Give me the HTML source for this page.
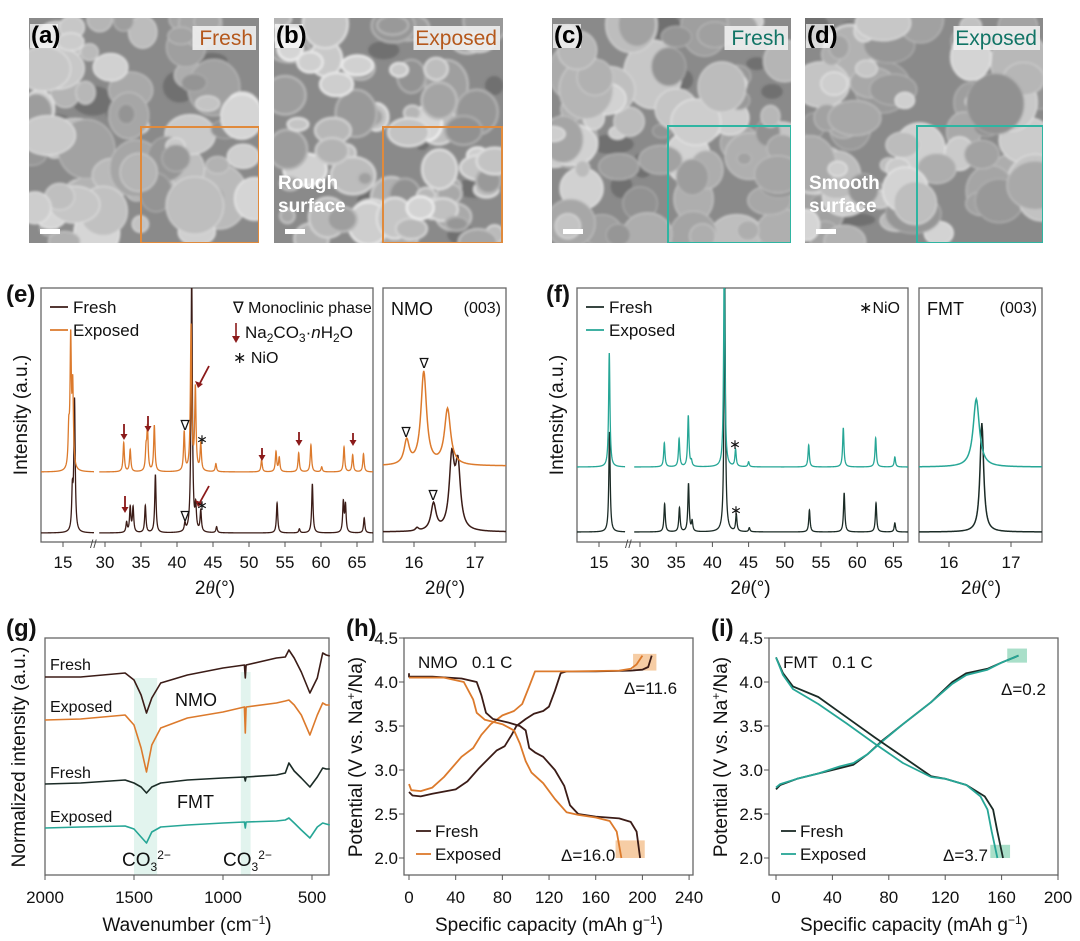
<!DOCTYPE html>
<html><head><meta charset="utf-8">
<style>
html,body{margin:0;padding:0;background:#fff;}
svg{display:block;font-family:"Liberation Sans",sans-serif;}
</style></head>
<body>
<svg id="fig" width="1080" height="941" viewBox="0 0 1080 941" xmlns="http://www.w3.org/2000/svg">
<defs>
<clipPath id="clipE"><rect x="41" y="288" width="332" height="254"/></clipPath>
<clipPath id="clipES"><rect x="383" y="288" width="123" height="254"/></clipPath>
<clipPath id="clipF"><rect x="577" y="288" width="331" height="254"/></clipPath>
<clipPath id="clipFS"><rect x="919" y="288" width="123" height="254"/></clipPath>
<clipPath id="cA"><rect x="29" y="18" width="230" height="225"/></clipPath>
<clipPath id="cB"><rect x="274" y="18" width="229" height="225"/></clipPath>
<clipPath id="cC"><rect x="552" y="18" width="239" height="225"/></clipPath>
<clipPath id="cD"><rect x="805" y="18" width="238" height="225"/></clipPath>
<filter id="soft"><feGaussianBlur stdDeviation="1.2"/></filter>
</defs>
<g id="root"></g>
</svg>
<script>
// ===== XRD data (peak positions in 2θ deg, heights in a.u., half-widths in deg) =====
const eExpPos=[15.8,16.07,16.35,32.6,33.5,35.7,35.9,36.85,41.0,41.95,42.55,43.3,45.4,51.75,53.75,54.2,56.9,58.6,60.1,63.2,64.4,65.9];
const eExpH=[35,127,79,29,22,20,42,46,39,145,82,27,8,12,20,14,19,27,5,25,17,18];
const eFrePos=[16.3,16.6,33.0,33.5,33.9,35.6,37.0,41.1,42.04,42.6,43.3,45.5,53.9,57.0,58.8,63.1,63.4,66.0];
const eFreH=[38,131,10,25,25,27,58,8,260,23,21,6,30,4,49,30,27,15];
const eSubExpPos=[15.88,16.16,16.55];
const eSubExpH=[24,93,56];
const eSubExpW=[0.05,0.055,0.06];
const eSubFrePos=[16.05,16.32,16.62,16.72];
const eSubFreH=[3,27,70,62];
const eSubFreW=[0.03,0.05,0.05,0.05];
const fExpPos=[16.42,33.36,35.4,36.67,37.1,41.64,43.2,45.0,53.3,58.08,62.55,65.2];
const fExpH=[114,24,28,51,5,210,17,5,22,39,29,10];
const fFrePos=[16.45,33.4,35.45,36.7,37.2,41.7,43.3,45.1,53.4,58.2,62.6,65.2];
const fFreH=[100,28,24,48,10,260,17,4,22,39,29,9];
const fSubExpPos=[16.44];
const fSubExpH=[68];
const fSubExpW=[0.06];
const fSubFrePos=[16.53];
const fSubFreH=[109];
const fSubFreW=[0.035];
const xrdTicksMain=[30,35,40,45,50,55,60,65];
const xrdTicksSub=[16,17];
// ===== FTIR data (wavenumber cm-1, intensity a.u.) =====
const irWave=[2000,1800,1550,1500,1460,1430,1400,1350,1200,1000,880,875,870,700,650,630,600,560,512,470,440,420,400];
const irNmoFresh=[198,198,202,195,180,162,177,192,200,207,210,197,210,217,218,225,217,203,182,197,222,220,219];
const irNmoExp=[155,156,160,150,127,103,130,147,157,163,168,142,168,172,174,175,170,160,140,160,172,170,170];
const irFmtFresh=[91,92,95,92,88,82,88,92,95,97,98,94,98,100,102,112,104,97,88,98,107,106,106];
const irFmtExp=[47,48,49,46,38,32,43,48,50,52,53,47,53,54,55,57,52,45,37,48,52,51,50];
const irTicks=[2000,1500,1000,500];
// ===== Charge/discharge data (capacity mAh/g, potential V) =====
const hFreChgC=[0,3,10,20,40,50,60,75,82,88,92,100,107,115,120,125,130,135,160,190,200,205,208];
const hFreChgV=[2.75,2.71,2.70,2.73,2.78,2.87,3.02,3.22,3.27,3.40,3.50,3.58,3.64,3.67,3.72,3.90,4.10,4.12,4.12,4.13,4.14,4.17,4.30];
const hExpChgC=[0,2,10,20,30,45,55,62,70,80,90,97,103,108,140,180,190,195,200];
const hExpChgV=[2.84,2.77,2.76,2.80,2.92,3.15,3.25,3.40,3.52,3.62,3.67,3.75,3.95,4.12,4.12,4.13,4.15,4.20,4.30];
const hFreDisC=[0,0,20,45,58,62,66,72,85,95,100,103,108,115,125,133,138,145,160,180,190,195,198];
const hFreDisV=[4.10,4.06,4.06,4.04,4.00,3.85,3.65,3.58,3.54,3.50,3.45,3.25,3.20,3.15,3.00,2.82,2.60,2.50,2.47,2.45,2.41,2.30,2.00];
const hExpDisC=[0,30,47,55,58,65,80,90,95,100,105,115,125,135,145,160,172,178,182];
const hExpDisV=[4.05,4.05,4.00,3.80,3.65,3.57,3.52,3.45,3.30,3.10,2.97,2.85,2.67,2.52,2.49,2.46,2.42,2.30,2.00];
const iFreChgC=[0,3,15,30,45,55,65,75,90,110,125,135,150,160,172];
const iFreChgV=[2.78,2.83,2.90,2.96,3.02,3.06,3.18,3.33,3.52,3.77,4.00,4.10,4.15,4.22,4.30];
const iExpChgC=[0,3,15,30,45,55,65,75,90,110,125,135,150,160,172];
const iExpChgV=[2.80,2.84,2.90,2.96,3.04,3.08,3.18,3.32,3.52,3.77,3.98,4.08,4.14,4.22,4.30];
const iFreDisC=[0,5,12,30,50,70,90,110,120,135,148,154,157,161];
const iFreDisV=[4.28,4.10,3.95,3.83,3.60,3.37,3.15,2.93,2.90,2.83,2.70,2.55,2.30,2.00];
const iExpDisC=[0,5,12,30,50,70,90,110,120,135,145,150,153,157];
const iExpDisV=[4.28,4.08,3.92,3.75,3.53,3.30,3.08,2.92,2.90,2.83,2.70,2.55,2.30,2.00];
const cdTicksY=[2.0,2.5,3.0,3.5,4.0,4.5];
const hTicksX=[0,40,80,120,160,200,240];
const iTicksX=[0,40,80,120,160,200];

const NS="http://www.w3.org/2000/svg";
const root=document.getElementById('root');
function el(tag,attrs,parent){const e=document.createElementNS(NS,tag);for(const k in attrs)e.setAttribute(k,attrs[k]);(parent||root).appendChild(e);return e;}
function txt(x,y,s,size,anchor,parent,extra){const t=el('text',Object.assign({x:x,y:y,'font-size':size,'text-anchor':anchor||'start','fill':'#111'},extra||{}),parent);t.innerHTML=s;return t;}

// ===== SEM images (decorative texture) =====
let seed=12345;function rnd(){seed=(seed*1103515245+12345)%2147483648;return seed/2147483648;}
function sem(x,y,w,h,clip,name,rough,inset,col,label,lab,caption){
  const g=el('g',{'clip-path':'url(#'+clip+')'});
  
  
  el('rect',{x:x,y:y,width:w,height:h,fill:'#8a8a8a'},g);
  const tex=el('g',{filter:'url(#soft)'},g);
  for(let i=0;i<8;i++){el('ellipse',{cx:x+rnd()*w,cy:y+rnd()*h,rx:8+rnd()*14,ry:6+rnd()*10,fill:'#555',opacity:0.5},tex);}
  for(let i=0;i<75;i++){const cx=x+rnd()*w,cy=y+rnd()*h,r=7+rnd()*(rough?16:22);const v=Math.floor(145+rnd()*70);const s=Math.min(245,v+25);
    el('ellipse',{cx:cx,cy:cy,rx:r,ry:r*(0.6+rnd()*0.6),fill:'rgb('+v+','+v+','+v+')',stroke:'rgb('+s+','+s+','+s+')','stroke-width':rough?2.5:1.2},tex);}
  el('rect',{x:inset[0],y:inset[1],width:inset[2],height:inset[3],fill:'none',stroke:col,'stroke-width':2},g);
  el('rect',{x:x+1,y:y+6,width:28,height:24,fill:'#fff',opacity:0.7},g);
  txt(x+2,y+25,lab,24,'start',g,{'font-weight':'bold','fill':'#000'});
  const lw=label.length*11.5+6;
  el('rect',{x:x+w-lw-3,y:y+8,width:lw,height:24,fill:'#f0f0f0',opacity:0.9},g);
  txt(x+w-6,y+27,label,21,'end',g,{'fill':col==='#e08a3c'?'#b5581c':'#127566'});
  el('rect',{x:x+11,y:y+h-14,width:20,height:5,fill:'#fff'},g);
  if(caption){txt(x+4,y+h-54,caption[0],19,'start',g,{'fill':'#fff','font-weight':'bold'});txt(x+4,y+h-31,caption[1],19,'start',g,{'fill':'#fff','font-weight':'bold'});}
}
sem(29,18,230,225,'cA','sem-image-a',false,[141,127,118,116],'#e08a3c','Fresh','(a)',null);
sem(274,18,229,225,'cB','sem-image-b',true,[383,127,119,116],'#e08a3c','Exposed','(b)',['Rough','surface']);
sem(552,18,239,225,'cC','sem-image-c',false,[668,126,123,117],'#2fb5a2','Fresh','(c)',null);
sem(805,18,238,225,'cD','sem-image-d',false,[917,126,126,117],'#2fb5a2','Exposed','(d)',['Smooth','surface']);

// ===== XRD helpers =====
function lor(t,pos,hs,ws,wdef){let s=0;for(let i=0;i<pos.length;i++){const w=ws?ws[i]:wdef;const d=(t-pos[i])/w;s+=hs[i]/(1+d*d);}return s;}
function xrdPath(x0,t0,sc,tA,tB,base,pos,hs,ws,wdef){let d='';for(let t=tA;t<=tB+1e-9;t+=0.01){const X=x0+(t-t0)*sc,Y=base-lor(t,pos,hs,ws,wdef);d+=(d?'L':'M')+X.toFixed(2)+','+Y.toFixed(2);}return d;}
function axisBox(x,y,w,h,name){const r=el('rect',{x:x,y:y,width:w,height:h,fill:'none',stroke:'#666','stroke-width':1.3});}

function xrdPanel(o){
  axisBox(o.bx,288,o.bw,254,o.name+'-axes');
  const g=el('g',{'clip-path':'url(#'+o.clip+')'});
  
  
  const segs=[[o.lx0,15,o.tL0,o.tL1],[o.rx0,30,29.2,67.5]];
  for(const s of segs){
    const p1=el('path',{d:xrdPath(s[0],s[1],o.sc,s[2],s[3],o.fb,o.fPos,o.fH,null,0.11),fill:'none',stroke:o.fc,'stroke-width':1.3},g);
    
    
    const p2=el('path',{d:xrdPath(s[0],s[1],o.sc,s[2],s[3],o.eb,o.ePos,o.eH,null,0.11),fill:'none',stroke:o.ec,'stroke-width':1.3},g);
    
    
  }
  txt(o.lx0,568,'15',17,'middle');el('line',{x1:o.lx0,y1:542,x2:o.lx0,y2:547,stroke:'#555'});
  for(const t of xrdTicksMain){const X=o.rx0+(t-30)*o.sc;el('line',{x1:X,y1:542,x2:X,y2:547,stroke:'#555'});const tl=txt(X,568,String(t),17,'middle');}
  txt(o.brk-3,548,'//',12,'start',null,{'fill':'#444'});
  const at=txt(o.bx+o.bw/2+8,594,'2<tspan font-style="italic" font-family="Liberation Serif">θ</tspan>(°)',19,'middle');
  const yt=txt(0,0,'Intensity (a.u.)',19,'middle',null,{transform:'translate('+(o.bx-14)+',415) rotate(-90)'});
  axisBox(o.sx,288,123,254,o.name+'-sub-axes');
  const g2=el('g',{'clip-path':'url(#'+o.sclip+')'});
  
  
  el('path',{d:xrdPath(o.s16,16,o.ssc,15.45,17.55,o.sfb,o.sfPos,o.sfH,o.sfW),fill:'none',stroke:o.fc,'stroke-width':1.5},g2);
  el('path',{d:xrdPath(o.s16,16,o.ssc,15.45,17.55,o.seb,o.sePos,o.seH,o.seW),fill:'none',stroke:o.ec,'stroke-width':1.5},g2);
  for(const t of xrdTicksSub){const X=o.s16+(t-16)*o.ssc;el('line',{x1:X,y1:542,x2:X,y2:547,stroke:'#555'});txt(X,568,String(t),17,'middle');}
  txt(o.sx+62,594,'2<tspan font-style="italic" font-family="Liberation Serif">θ</tspan>(°)',19,'middle');
  txt(o.sx+8,315,o.mat,18,'start');txt(o.sx+118,313,'(003)',16,'end');
  const lg=el('g',{});
  el('line',{x1:o.bx+9,y1:307,x2:o.bx+27,y2:307,stroke:o.fc,'stroke-width':1.8},lg);txt(o.bx+32,313,'Fresh',17,'start',lg);
  el('line',{x1:o.bx+9,y1:330,x2:o.bx+27,y2:330,stroke:o.ec,'stroke-width':1.8},lg);txt(o.bx+32,336,'Exposed',17,'start',lg);
}
xrdPanel({name:'xrd-e',bx:41,bw:332,clip:'clipE',lx0:63,rx0:105,sc:7.2,tL0:11.5,tL1:19.3,brk:93,fb:533,eb:472,fPos:eFrePos,fH:eFreH,ePos:eExpPos,eH:eExpH,fc:'#3b1c17',ec:'#dc7a2c',
  sx:383,sclip:'clipES',s16:414,ssc:61,sfb:532,seb:466,sfPos:eSubFrePos,sfH:eSubFreH,sfW:eSubFreW,sePos:eSubExpPos,seH:eSubExpH,seW:eSubExpW,mat:'NMO'});
xrdPanel({name:'xrd-f',bx:577,bw:331,clip:'clipF',lx0:599,rx0:640,sc:7.24,tL0:11.5,tL1:18.6,brk:628,fb:532,eb:467,fPos:fFrePos,fH:fFreH,ePos:fExpPos,eH:fExpH,fc:'#1b2b26',ec:'#26a696',
  sx:919,sclip:'clipFS',s16:949,ssc:62,sfb:532,seb:467,sfPos:fSubFrePos,sfH:fSubFreH,sfW:fSubFreW,sePos:fSubExpPos,seH:fSubExpH,seW:fSubExpW,mat:'FMT'});
txt(6,302,'(e)',24,'start',null,{'font-weight':'bold'});
txt(546,302,'(f)',24,'start',null,{'font-weight':'bold'});
txt(233,313,'∇ Monoclinic phase',16,'start');
el('line',{x1:236,y1:323,x2:236,y2:340,stroke:'#8b1a1a','stroke-width':1.6});el('path',{d:'M232,336 L236,343 L240,336Z',fill:'#8b1a1a'});
txt(245,338,'Na<tspan font-size="12" dy="4">2</tspan><tspan dy="-4">CO</tspan><tspan font-size="12" dy="4">3</tspan><tspan dy="-4">·</tspan><tspan font-style="italic">n</tspan>H<tspan font-size="12" dy="4">2</tspan><tspan dy="-4">O</tspan>',17,'start');
txt(233,363,'∗ NiO',16,'start');
txt(900,313,'∗NiO',16,'end');
function downArrow(x,y1,y2){el('line',{x1:x,y1:y1,x2:x,y2:y2-5,stroke:'#8b1a1a','stroke-width':1.8});el('path',{d:'M'+(x-3.5)+','+(y2-6)+' L'+x+','+y2+' L'+(x+3.5)+','+(y2-6)+'Z',fill:'#8b1a1a'});}
function diagArrow(x1,y1,x2,y2){el('line',{x1:x1,y1:y1,x2:x2,y2:y2,stroke:'#8b1a1a','stroke-width':1.8});el('path',{d:'M'+(x2-4)+','+(y2-4)+' L'+(x2-1)+','+(y2+3)+' L'+(x2+4)+','+(y2-1)+'Z',fill:'#8b1a1a'});}
downArrow(124,424,440);downArrow(148,416,432);downArrow(262,448,461);downArrow(299,432,446);downArrow(353,433,446);downArrow(125,496,513);
diagArrow(209,366,199,385);diagArrow(209,486,199,504);
txt(185,430,'∇',14,'middle');txt(185,521,'∇',14,'middle');txt(406,437,'∇',14,'middle');txt(424,368,'∇',14,'middle');txt(433,500,'∇',14,'middle');
txt(202,444,'∗',14,'middle');txt(202,510,'∗',14,'middle');
txt(735,449,'∗',14,'middle');txt(736,515,'∗',14,'middle');

// ===== FTIR panel g =====
const gx=w=>45+(2000-w)*0.178, gy=v=>875-v;
el('rect',{x:gx(1500),y:678,width:gx(1370)-gx(1500),height:197,fill:'#e2f4ee'});
el('rect',{x:gx(900),y:672,width:gx(845)-gx(900),height:203,fill:'#e2f4ee'});
axisBox(45,638,284,237,'ftir-axes');
function irLine(vals,col,name){let d='';for(let i=0;i<irWave.length;i++)d+=(i?'L':'M')+gx(irWave[i]).toFixed(1)+','+gy(vals[i]).toFixed(1);const p=el('path',{d:d,fill:'none',stroke:col,'stroke-width':1.6,'stroke-linejoin':'round'});}
irLine(irNmoFresh,'#3b1c17','nmo-fresh-spectrum');irLine(irNmoExp,'#dc7a2c','nmo-exposed-spectrum');irLine(irFmtFresh,'#1b2b26','fmt-fresh-spectrum');irLine(irFmtExp,'#26a696','fmt-exposed-spectrum');
for(const t of irTicks){const X=gx(t);el('line',{x1:X,y1:875,x2:X,y2:880,stroke:'#555'});txt(X,903,String(t),17,'middle');}
txt(187,931,'Wavenumber (cm<tspan font-size="12" dy="-7">−1</tspan><tspan dy="7">)</tspan>',19,'middle');
txt(0,0,'Normalized intensity (a.u.)',19,'middle',null,{transform:'translate(25,757) rotate(-90)'});
txt(50,670,'Fresh',16);txt(50,712,'Exposed',16);txt(50,778,'Fresh',16);txt(50,822,'Exposed',16);
txt(175,706,'NMO',18);txt(177,808,'FMT',18);
txt(122,866,'CO<tspan font-size="12" dy="5">3</tspan><tspan font-size="12" dy="-12">2−</tspan>',19,'start');
txt(223,866,'CO<tspan font-size="12" dy="5">3</tspan><tspan font-size="12" dy="-12">2−</tspan>',19,'start');
txt(6,636,'(g)',24,'start',null,{'font-weight':'bold'});

// ===== charge/discharge panels =====
function cdPanel(o){
  const X=c=>o.x0+c*o.sx, Y=v=>858-(v-2)*88;
  axisBox(o.bx,638,289,237,o.name+'-axes');
  for(const b of o.boxes)el('rect',{x:X(b[0]),y:Y(b[3]),width:X(b[1])-X(b[0]),height:Y(b[2])-Y(b[3]),fill:o.shade});
  for(const s of o.series){let d='';for(let i=0;i<s[0].length;i++)d+=(i?'L':'M')+X(s[0][i]).toFixed(1)+','+Y(s[1][i]).toFixed(1);const p=el('path',{d:d,fill:'none',stroke:s[2],'stroke-width':1.8,'stroke-linejoin':'round'});}
  for(const t of o.xt){el('line',{x1:X(t),y1:875,x2:X(t),y2:880,stroke:'#555'});txt(X(t),903,String(t),17,'middle');}
  for(const v of cdTicksY){el('line',{x1:o.bx-5,y1:Y(v),x2:o.bx,y2:Y(v),stroke:'#555'});txt(o.bx-6,Y(v)+6,v.toFixed(1),17,'end');}
  txt(o.bx+145,931,'Specific capacity (mAh g<tspan font-size="12" dy="-7">−1</tspan><tspan dy="7">)</tspan>',19,'middle');
  txt(0,0,'Potential (V vs. Na<tspan font-size="12" dy="-7">+</tspan><tspan dy="7">/Na)</tspan>',19,'middle',null,{transform:'translate('+(o.bx-42)+',757) rotate(-90)'});
  txt(o.bx+14,668,o.mat+'&#160;&#160;&#160;0.1 C',17);
  const lg=el('g',{});
  el('line',{x1:o.bx+12,y1:831,x2:o.bx+27,y2:831,stroke:o.series[0][2],'stroke-width':1.8},lg);txt(o.bx+31,837,'Fresh',17,'start',lg);
  el('line',{x1:o.bx+12,y1:854,x2:o.bx+27,y2:854,stroke:o.series[1][2],'stroke-width':1.8},lg);txt(o.bx+31,860,'Exposed',17,'start',lg);
  txt(o.d1[0],o.d1[1],o.d1[2],17,'start');txt(o.d2[0],o.d2[1],o.d2[2],17,'start');
}
cdPanel({name:'nmo-cd',bx:404,x0:409,sx:1.167,xt:hTicksX,shade:'#f6cda5',mat:'NMO',boxes:[[192,212,4.13,4.32],[177,202,2.0,2.2]],
  series:[[hFreChgC,hFreChgV,'#3b1c17','fresh-charge'],[hExpChgC,hExpChgV,'#dc7a2c','exposed-charge'],[hFreDisC,hFreDisV,'#3b1c17','fresh-discharge'],[hExpDisC,hExpDisV,'#dc7a2c','exposed-discharge']],
  d1:[624,694,'Δ=11.6'],d2:[561,861,'Δ=16.0']});
cdPanel({name:'fmt-cd',bx:769,x0:776,sx:1.41,xt:iTicksX,shade:'#a9dfc9',mat:'FMT',boxes:[[164,178,4.22,4.38],[152,166,2.0,2.15]],
  series:[[iFreChgC,iFreChgV,'#1b2b26','fresh-charge'],[iExpChgC,iExpChgV,'#26a696','exposed-charge'],[iFreDisC,iFreDisV,'#1b2b26','fresh-discharge'],[iExpDisC,iExpDisV,'#26a696','exposed-discharge']],
  d1:[1001,695,'Δ=0.2'],d2:[943,861,'Δ=3.7']});
txt(346,636,'(h)',24,'start',null,{'font-weight':'bold'});
txt(711,636,'(i)',24,'start',null,{'font-weight':'bold'});
</script>
</body></html>
